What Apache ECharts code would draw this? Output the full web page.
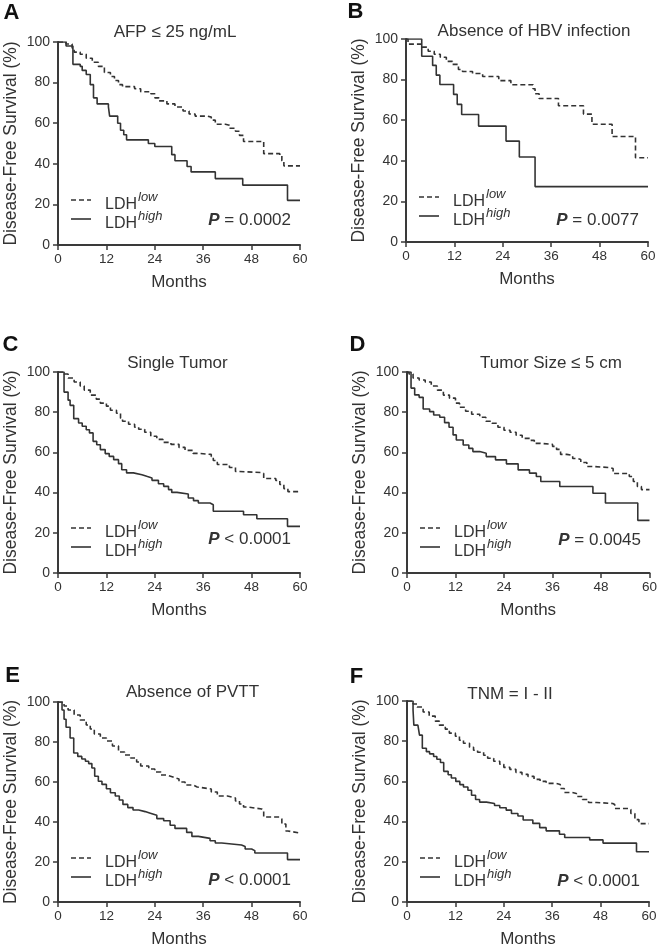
<!DOCTYPE html>
<html><head><meta charset="utf-8">
<script src="https://cdn.jsdelivr.net/npm/echarts/dist/echarts.min.js"></script>
<style>html,body{margin:0;padding:0;background:#fff}#c{width:660px;height:949px}</style>
</head><body><div id="c"></div>
<script>
// ---------- data ----------
const monthTicks = [0, 12, 24, 36, 48, 60];
const survivalTicks = [0, 20, 40, 60, 80, 100];
const panelLetters = ['A', 'B', 'C', 'D', 'E', 'F'];
const panelTitles = ['AFP \u2264 25 ng/mL', 'Absence of HBV infection', 'Single Tumor', 'Tumor Size \u2264 5 cm', 'Absence of PVTT', 'TNM = I - II'];
const pTexts = ['= 0.0002', '= 0.0077', '< 0.0001', '= 0.0045', '< 0.0001', '< 0.0001'];
const legendNames = ['LDH', 'LDH'];
const legendSups = ['low', 'high'];

const lowA = [[0,100],[2,99],[3.5,97],[4,95],[5.5,94],[7,92],[8.5,90],[10,88],[11.5,85],[13,83],[14,81],[15,79],[16,78],[19,77],[20.5,75.5],[23,74.5],[24,72.5],[25,71],[27,69.5],[29,68],[31,66],[32.5,64.5],[34,63.5],[37,63],[38,61.5],[39,59.5],[41.5,59],[42.5,57.5],[44,56],[45,54],[46,51],[51,45],[55,44],[55.5,41.5],[56,39],[60,39]];
const highA = [[0,100],[2,98],[3.7,89],[5.5,88],[6,86],[7,84],[8,79],[8.8,72.5],[9.7,69.5],[12.5,68],[12.8,63.5],[14.8,60],[15.5,56.5],[16.3,54.3],[17,51.8],[22.4,50],[24,48.5],[28.2,44.5],[29,41.5],[32,38.7],[33,36],[39,32.7],[45.8,29.5],[56.9,22],[60,22]];

const lowB = [[0,100],[0.5,97.5],[4,96],[5.5,94],[7,92.5],[8.5,91],[10,89],[11.5,87.5],[13,85],[14,84],[16.5,83],[19,81.5],[23,79.5],[26,77.5],[31.5,75.5],[32,73],[33,70.7],[37.8,67.1],[44,63],[46.1,58],[51.1,52],[56.9,41.5],[60,41.5]];
const highB = [[0,100],[3.9,91.5],[6.6,87],[7.5,82.2],[8.4,77.6],[11.8,72.7],[12.7,67.8],[13.8,62.8],[18,57.1],[24.8,49.7],[28.1,41.9],[32,27.3],[60,27.3]];

const lowC = [[0,100],[1.5,99],[2.5,97],[4,95],[5.5,93],[6.5,91],[8,88.5],[9.5,86.5],[10.5,84.5],[12,83],[13,81],[14.5,79.5],[15.5,77],[16,75.5],[17.5,74],[19,72.5],[20,71.5],[21.5,70],[23,68],[24.5,66.5],[26,65],[28,64],[30,62.5],[31.5,61],[33.5,59.5],[35,59],[38,58],[38.5,56],[39.5,54],[42.5,52.5],[44,50.5],[45,50],[50.5,49.5],[51,47],[54,46],[55,44],[56,42],[57,40.5],[60,40.5]];
const highC = [[0,100],[1.5,90],[2.5,86],[3,83.4],[3.9,76.8],[5.1,74.6],[6,73],[7,71.3],[7.8,69.7],[8.7,65.5],[9.6,63.8],[10.5,61.4],[11.7,59.4],[12.7,58],[13.8,56.4],[15,54.4],[15.8,51.4],[17,49.8],[18.7,48.9],[20.8,48.1],[22,47.3],[23.3,46.1],[24.9,44.4],[26.2,43.1],[27.4,41.5],[28.2,40.1],[29.5,39.3],[32.3,37.3],[33.6,36],[34.8,34.8],[37.7,34],[38.5,30.7],[46,29],[49.3,27],[56.9,23.2],[60,23.2]];

const lowD = [[0,100],[0.5,99],[1.5,97],[3,96],[4.5,95],[6,93],[7.5,91],[9,88.5],[10.5,87],[12,84.5],[13,82.5],[14.5,80.5],[16,79],[18,77.5],[19.5,75.5],[21,74.5],[22.5,72.5],[24,71],[25.5,70],[27,68.5],[28.5,67],[30.5,66],[31.5,64.5],[33,64],[36,63],[37,61.5],[38,59],[39.5,58.5],[41,57],[42,56.5],[43,55],[44.5,53],[46,52.5],[50,52],[51,49.5],[55,48],[56,45.5],[57,43],[58,41.5],[60,41.5]];
const highD = [[0,100],[1,92],[1.9,88.6],[3,87.4],[4,81.6],[5.6,80.3],[6.6,78.6],[8.1,77.5],[9.3,74.8],[10.4,72.5],[11.4,68.7],[12.2,66.2],[13.9,63.7],[15.3,62],[16.3,60.4],[18,59.6],[19.6,57.9],[21.9,56.3],[24.6,54.3],[27.5,51.3],[30.3,49.7],[32,48],[33.1,45.5],[37.8,43],[46,39.7],[49.1,34.8],[57.1,26.2],[60,26.2]];

const lowE = [[0,100],[1.5,98],[2.5,96],[4,93.5],[5.5,91],[7,88.5],[8,86.5],[9,84],[10.5,82],[12,80.5],[13.5,78],[15,75],[16.5,73.5],[18,72],[19.5,70],[20.5,68],[22.5,66.5],[24,65],[25.5,63.5],[27,62.5],[28.5,61.5],[30,60],[31.5,58.5],[33.5,57.5],[34.5,56.5],[38,55],[39.5,53],[42,52],[44,50.5],[45,49],[46,47.5],[47,46.5],[50.5,46],[51,42.5],[55,41.5],[55.5,39],[56.5,35.5],[57,34.5],[60,34.5]];
const highE = [[0,100],[1,96],[1.5,91.4],[2,87.4],[3,82],[3.9,74.5],[4.9,72.8],[5.9,71.5],[6.8,70.4],[7.6,69.2],[8.4,67],[9.1,62.9],[10,60.4],[10.9,58.8],[12,56.6],[13,54.6],[14.2,53],[15.2,51],[16.1,48.8],[17.3,47.2],[18.6,46],[20,45.2],[21.6,44.4],[22.9,43.4],[24.5,41.7],[26.2,40.6],[27.8,38.4],[29,36.8],[31.9,34.8],[33.2,32.8],[34.8,31.8],[37.7,30.6],[39,29.5],[40.6,28.5],[45.5,27.8],[46.4,26.5],[48,25.7],[48.8,24.5],[56.9,21.2],[60,21.2]];

const lowF = [[0,100],[1.5,98.5],[2.5,97],[4,94.5],[5.5,92.5],[7,90],[8,88],[9.5,86],[10.5,84],[12,82.5],[13,80.5],[14,79],[15.5,77],[16.5,75.5],[17.5,74.5],[19,73],[20,71.5],[21.5,70],[23,68.5],[24,67],[25.5,66],[27,64.5],[28.5,63.5],[30,62.5],[31.5,61],[33,60],[34.5,59],[37,58.5],[38,56.5],[39,54.5],[41,54],[42,52.5],[43.5,51],[45,49.5],[47,49],[51,48.5],[51.5,46.5],[55,46],[55.5,44],[56.5,41],[57.5,39],[60,39]];
const highF = [[0,100],[1.5,95.4],[1.7,88],[2.7,87.2],[3.1,83],[3.8,76.5],[4.8,74.8],[5.6,73.7],[6.6,72.4],[7.4,71],[8.3,69.4],[9.1,65],[10.2,63.3],[11,61.7],[12.1,60],[13.1,58.4],[14,57.2],[15.1,55.6],[16,53.1],[17,51],[18,49.7],[19.7,49],[21.7,48],[23,46.9],[24.6,45.7],[25.9,44],[27.5,42.8],[28.8,40.8],[31.2,39.1],[32.9,37],[34.5,35.4],[37.8,33.7],[39.1,32.1],[45.3,30.9],[48.6,29.3],[56.9,25],[60,25]];

const lowSeries = [lowA, lowB, lowC, lowD, lowE, lowF];
const highSeries = [highA, highB, highC, highD, highE, highF];

// ---------- layout ----------
const FONT = '"Liberation Sans", Arial, Helvetica, sans-serif';
const INK = '#333';
const AXIS = '#3a3a3a';
const grids = [
  {left: 58, top: 42, width: 242, height: 203},
  {left: 406, top: 39, width: 242, height: 203},
  {left: 58, top: 372, width: 242, height: 201},
  {left: 407, top: 372, width: 243, height: 201},
  {left: 58, top: 702, width: 242, height: 201},
  {left: 407, top: 701, width: 242, height: 202}
];
const letterPos = [[11.5, 12.5], [355.5, 12], [10.5, 345], [357.5, 345], [12.5, 676], [356.5, 676.5]];
const titlePos = [[175, 32], [534, 31.5], [177.5, 363], [551, 363], [192.5, 692.5], [510, 694]];
const pOffset = [25, 22, 34, 33, 23, 22];

const xAxes = [], yAxes = [], series = [], graphics = [];
grids.forEach((g, i) => {
  xAxes.push({
    type: 'value', gridIndex: i, min: monthTicks[0], max: monthTicks[monthTicks.length - 1],
    interval: monthTicks[1] - monthTicks[0],
    name: 'Months', nameLocation: 'middle', nameGap: 29,
    nameTextStyle: {fontSize: 17, color: INK, fontFamily: FONT},
    axisLine: {onZero: false, lineStyle: {color: AXIS, width: 2}},
    axisTick: {show: true, length: 5, lineStyle: {color: AXIS, width: 1.5}},
    axisLabel: {fontSize: 13.5, color: INK, fontFamily: FONT, margin: 7},
    splitLine: {show: false}
  });
  yAxes.push({
    type: 'value', gridIndex: i, min: survivalTicks[0], max: survivalTicks[survivalTicks.length - 1],
    interval: survivalTicks[1] - survivalTicks[0],
    name: 'Disease-Free Survival (%)', nameLocation: 'middle', nameGap: 38,
    nameTextStyle: {fontSize: 17.5, color: INK, fontFamily: FONT},
    axisLine: {show: true, onZero: false, lineStyle: {color: AXIS, width: 2}},
    axisTick: {show: true, length: 5, lineStyle: {color: AXIS, width: 1.5}},
    axisLabel: {fontSize: 14, color: INK, fontFamily: FONT, margin: 8},
    splitLine: {show: false}
  });
  series.push({
    type: 'line', xAxisIndex: i, yAxisIndex: i, step: 'end', showSymbol: false, symbol: 'none',
    data: lowSeries[i], lineStyle: {color: INK, width: 1.6, type: [5, 3]}, silent: true
  });
  series.push({
    type: 'line', xAxisIndex: i, yAxisIndex: i, step: 'end', showSymbol: false, symbol: 'none',
    data: highSeries[i], lineStyle: {color: INK, width: 1.6, type: 'solid'}, silent: true
  });

  const l = g.left, b = g.top + g.height, r = g.left + g.width;
  const txt = (text, x, y, size, extra) => Object.assign({
    type: 'text', silent: true,
    style: Object.assign({text: text, x: x, y: y, fill: INK, fontSize: size, fontFamily: FONT,
      align: 'left', verticalAlign: 'middle', textAlign: 'left', textVerticalAlign: 'middle'}, extra || {})
  });
  graphics.push(txt(panelLetters[i], letterPos[i][0], letterPos[i][1], 22,
    {fontWeight: 'bold', fill: '#111', align: 'center', textAlign: 'center'}));
  graphics.push(txt(panelTitles[i], titlePos[i][0], titlePos[i][1], 17,
    {align: 'center', textAlign: 'center'}));
  // legend
  graphics.push({type: 'line', silent: true, shape: {x1: l + 13, y1: b - 45, x2: l + 33, y2: b - 45},
    style: {stroke: INK, lineWidth: 1.6, lineDash: [5, 3]}});
  graphics.push({type: 'line', silent: true, shape: {x1: l + 13, y1: b - 26, x2: l + 33, y2: b - 26},
    style: {stroke: INK, lineWidth: 1.6}});
  graphics.push(txt(legendNames[0], l + 47, b - 40, 16));
  graphics.push(txt(legendSups[0], l + 80, b - 48, 13, {fontStyle: 'italic'}));
  graphics.push(txt(legendNames[1], l + 47, b - 21, 16));
  graphics.push(txt(legendSups[1], l + 80, b - 29, 13, {fontStyle: 'italic'}));
  // P value
  graphics.push(txt('{p|P} ' + pTexts[i], r - 9, b - pOffset[i], 17,
    {align: 'right', textAlign: 'right',
     rich: {p: {fontSize: 17, fontFamily: FONT, fontWeight: 'bold', fontStyle: 'italic', fill: INK, color: INK}}}));
});

const chart = echarts.init(document.getElementById('c'), null, {renderer: 'canvas'});
chart.setOption({
  animation: false,
  backgroundColor: '#fff',
  grid: grids.map(g => Object.assign({containLabel: false}, g)),
  xAxis: xAxes,
  yAxis: yAxes,
  series: series,
  graphic: graphics
});
</script>
</body></html>
